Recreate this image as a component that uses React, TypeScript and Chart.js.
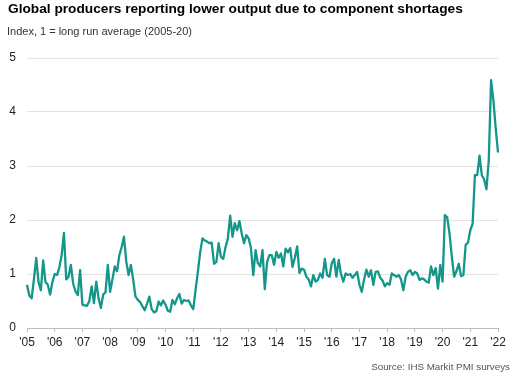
import React, { useEffect, useRef } from 'react';
import { Chart, registerables } from 'chart.js';

Chart.register(...registerables);

// Monthly index values, Jan 2005 .. Jan 2022
const v2005 = [0.80, 0.60, 0.55, 0.90, 1.30, 0.85, 0.70, 1.25, 0.85, 0.80, 0.62, 0.85];
const v2006 = [1.00, 0.98, 1.12, 1.35, 1.76, 0.90, 0.95, 1.17, 0.82, 0.68, 0.61, 1.07];
const v2007 = [0.43, 0.42, 0.41, 0.50, 0.77, 0.46, 0.86, 0.55, 0.37, 0.62, 0.66, 1.17];
const v2008 = [0.67, 0.90, 1.14, 1.05, 1.35, 1.50, 1.69, 1.23, 0.98, 1.17, 0.89, 0.58];
const v2009 = [0.52, 0.48, 0.40, 0.33, 0.45, 0.58, 0.35, 0.29, 0.31, 0.49, 0.42, 0.51];
const v2010 = [0.43, 0.32, 0.30, 0.52, 0.44, 0.55, 0.63, 0.45, 0.52, 0.50, 0.51, 0.42];
const v2011 = [0.35, 0.70, 1.04, 1.40, 1.66, 1.62, 1.60, 1.57, 1.58, 1.19, 1.22, 1.57];
const v2012 = [1.32, 1.28, 1.50, 1.66, 2.08, 1.69, 1.94, 1.81, 1.98, 1.75, 1.57, 1.72];
const v2013 = [1.66, 1.48, 0.98, 1.44, 1.20, 1.14, 1.44, 0.72, 1.23, 1.35, 1.35, 1.17];
const v2014 = [1.41, 1.30, 1.38, 1.14, 1.47, 1.40, 1.48, 1.13, 1.30, 1.51, 1.02, 1.10];
const v2015 = [1.08, 0.95, 0.90, 0.77, 0.98, 0.86, 0.89, 1.01, 0.93, 1.28, 0.98, 0.95];
const v2016 = [1.20, 1.28, 0.95, 1.26, 1.00, 0.86, 1.01, 0.98, 1.00, 0.93, 0.98, 1.04];
const v2017 = [0.80, 0.67, 0.90, 1.08, 0.95, 1.07, 0.80, 1.04, 1.05, 0.93, 0.88, 0.77];
const v2018 = [0.83, 0.80, 1.01, 0.98, 0.95, 0.98, 0.90, 0.70, 0.95, 1.04, 1.07, 0.98];
const v2019 = [1.04, 1.01, 0.89, 0.92, 0.90, 0.86, 0.84, 1.14, 0.98, 1.11, 0.73, 1.17];
const v2020 = [0.86, 2.09, 2.05, 1.75, 1.32, 0.95, 1.05, 1.19, 0.96, 0.98, 1.54, 1.58];
const v2021 = [1.81, 1.93, 2.83, 2.83, 3.19, 2.83, 2.75, 2.57, 3.11, 4.59, 4.22, 3.70];
const v2022 = [3.25];

const yearSeries = [
  v2005, v2006, v2007, v2008, v2009, v2010, v2011, v2012, v2013,
  v2014, v2015, v2016, v2017, v2018, v2019, v2020, v2021, v2022,
];
const years = [2005, 2006, 2007, 2008, 2009, 2010, 2011, 2012, 2013, 2014, 2015, 2016, 2017, 2018, 2019, 2020, 2021, 2022];
const yearTickLabels = ["'05", "'06", "'07", "'08", "'09", "'10", "'11", "'12", "'13", "'14", "'15", "'16", "'17", "'18", "'19", "'20", "'21", "'22"];

const title = 'Global producers reporting lower output due to component shortages';
const subtitle = 'Index, 1 = long run average (2005-20)';
const source = 'Source: IHS Markit PMI surveys';

const FONT = 'Arial, "Liberation Sans", sans-serif';
const LINE = '#14968a';

export default function App() {
  const ref = useRef<HTMLCanvasElement | null>(null);

  useEffect(() => {
    const labels: string[] = [];
    const values: number[] = [];
    yearSeries.forEach((arr, yi) => {
      arr.forEach((v, mi) => {
        labels.push(years[yi] + '-' + String(mi + 1).padStart(2, '0'));
        values.push(v);
      });
    });

    const chart = new Chart(ref.current as HTMLCanvasElement, {
      type: 'line',
      data: {
        labels,
        datasets: [
          {
            data: values,
            borderColor: LINE,
            borderWidth: 2.3,
            pointRadius: 0,
            tension: 0,
            fill: false,
            borderJoinStyle: 'round',
          },
        ],
      },
      options: {
        animation: false,
        responsive: false,
        devicePixelRatio: 1,
        layout: { padding: { left: 0, right: 22, top: 58, bottom: 0 } },
        plugins: {
          legend: { display: false },
          tooltip: { enabled: false },
          title: { display: false },
        },
        scales: {
          x: {
            type: 'category',
            offset: false,
            afterFit: (s: any) => {
              s.height = 55;
            },
            border: { display: true, color: '#bdbdbd', width: 1 },
            grid: {
              display: true,
              drawOnChartArea: false,
              drawTicks: true,
              tickLength: 4,
              color: (ctx: any) => (ctx.index % 12 === 0 ? '#bdbdbd' : 'rgba(0,0,0,0)'),
            },
            ticks: {
              autoSkip: false,
              maxRotation: 0,
              minRotation: 0,
              padding: 3,
              color: '#222',
              font: { family: FONT, size: 12 },
              callback: (_v: any, i: number) => (i % 12 === 0 ? yearTickLabels[i / 12] : ''),
            },
          },
          y: {
            min: 0,
            max: 5,
            afterFit: (s: any) => {
              s.width = 27;
            },
            border: { display: false },
            grid: {
              color: (ctx: any) => (ctx.tick && ctx.tick.value === 0 ? 'rgba(0,0,0,0)' : '#e3e3e3'),
              drawTicks: false,
              lineWidth: 1,
            },
            ticks: {
              stepSize: 1,
              padding: 11,
              color: '#222',
              font: { family: FONT, size: 12 },
            },
          },
        },
      },
    });
    return () => chart.destroy();
  }, []);

  return (
    <div
      style={{
        position: 'fixed',
        left: 0,
        top: 0,
        width: 520,
        height: 383,
        background: '#fff',
        fontFamily: FONT,
        overflow: 'hidden',
      }}
    >
      <canvas ref={ref} width={520} height={383} style={{ position: 'absolute', left: 0, top: 0 }} />
      <div style={{ position: 'absolute', left: 8, top: 1, fontSize: 13.7, lineHeight: '16px', fontWeight: 'bold', color: '#000', whiteSpace: 'nowrap' }}>
        {title}
      </div>
      <div style={{ position: 'absolute', left: 7, top: 25, fontSize: 11, lineHeight: '13px', color: '#333', whiteSpace: 'nowrap' }}>
        {subtitle}
      </div>
      <div style={{ position: 'absolute', right: 10, top: 361, fontSize: 9.8, lineHeight: '12px', color: '#555', whiteSpace: 'nowrap' }}>
        {source}
      </div>
    </div>
  );
}
